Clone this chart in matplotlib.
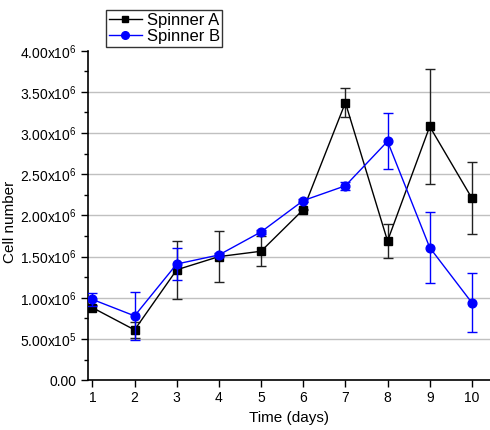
import matplotlib
matplotlib.use("Agg")
import matplotlib.pyplot as plt
from matplotlib.lines import Line2D
from matplotlib.ticker import MultipleLocator

plt.rcParams["font.family"] = ["Liberation Sans", "DejaVu Sans"]
plt.rcParams["mathtext.fontset"] = "custom"
plt.rcParams["mathtext.rm"] = "Liberation Sans"

days = [1, 2, 3, 4, 5, 6, 7, 8, 9, 10]

spinner_a = [0.88e6, 0.61e6, 1.34e6, 1.50e6, 1.565e6, 2.07e6, 3.37e6, 1.69e6, 3.08e6, 2.21e6]
spinner_a_err = [0.03e6, 0.10e6, 0.35e6, 0.31e6, 0.18e6, 0.01e6, 0.18e6, 0.21e6, 0.70e6, 0.44e6]

spinner_b = [0.98e6, 0.78e6, 1.41e6, 1.52e6, 1.80e6, 2.18e6, 2.36e6, 2.90e6, 1.61e6, 0.94e6]
spinner_b_err = [0.08e6, 0.29e6, 0.20e6, 0.02e6, 0.02e6, 0.02e6, 0.05e6, 0.34e6, 0.43e6, 0.355e6]

y_ticks = [0, 0.5e6, 1.0e6, 1.5e6, 2.0e6, 2.5e6, 3.0e6, 3.5e6, 4.0e6]
y_tick_labels = [
    "0.00",
    r"5.00x10$^{5}$",
    r"1.00x10$^{6}$",
    r"1.50x10$^{6}$",
    r"2.00x10$^{6}$",
    r"2.50x10$^{6}$",
    r"3.00x10$^{6}$",
    r"3.50x10$^{6}$",
    r"4.00x10$^{6}$",
]

fig = plt.figure(figsize=(4.9, 4.3), dpi=100)
ax = fig.add_axes([0.18, 0.116, 0.82, 0.766])

for v in y_ticks[1:-1]:
    ax.axhline(v, color="#c0c0c0", lw=1.0, zorder=0)

ax.errorbar(days, spinner_a, yerr=spinner_a_err, color="black", ecolor="#222222",
            elinewidth=1.0, capsize=3.5, capthick=1.0, lw=1.0,
            marker="s", ms=5.2, zorder=3)
ax.errorbar(days, spinner_b, yerr=spinner_b_err, color="blue", ecolor="blue",
            elinewidth=1.0, capsize=3.5, capthick=1.0, lw=1.0,
            marker="o", ms=6.3, zorder=4)

ax.set_xlim(0.9, 10.43)
ax.set_ylim(0, 4.0e6)
ax.set_xticks(days)
ax.set_yticks(y_ticks)
ax.set_yticklabels(y_tick_labels)
ax.yaxis.set_minor_locator(MultipleLocator(0.25e6))
ax.tick_params(axis="both", labelsize=10, width=1.0, length=5, direction="out", color="black")
ax.tick_params(axis="y", which="minor", length=3, width=1.0)
ax.tick_params(axis="x", pad=3)

for side in ["top", "right"]:
    ax.spines[side].set_visible(False)
for side in ["left", "bottom"]:
    ax.spines[side].set_linewidth(1.2)

ax.set_xlabel("Time (days)", fontsize=11, labelpad=4)
ax.set_ylabel("Cell number", fontsize=11)
ax.yaxis.set_label_coords(-0.178, 0.48)

# legend entries without the error-bar glyph
handles = [
    Line2D([], [], color="black", lw=1.0, marker="s", ms=5),
    Line2D([], [], color="blue", lw=1.0, marker="o", ms=5.5),
]
leg = fig.legend(handles=handles, labels=["Spinner A", "Spinner B"],
                 loc="upper left", bbox_to_anchor=(106 / 490, 1 - 10 / 430),
                 fontsize=12, frameon=True, fancybox=False, edgecolor="black",
                 handlelength=2.0, handletextpad=0.3, borderpad=0.15,
                 labelspacing=0.1, borderaxespad=0)
leg.get_frame().set_linewidth(1.0)

fig.savefig("out.png", dpi=100)
